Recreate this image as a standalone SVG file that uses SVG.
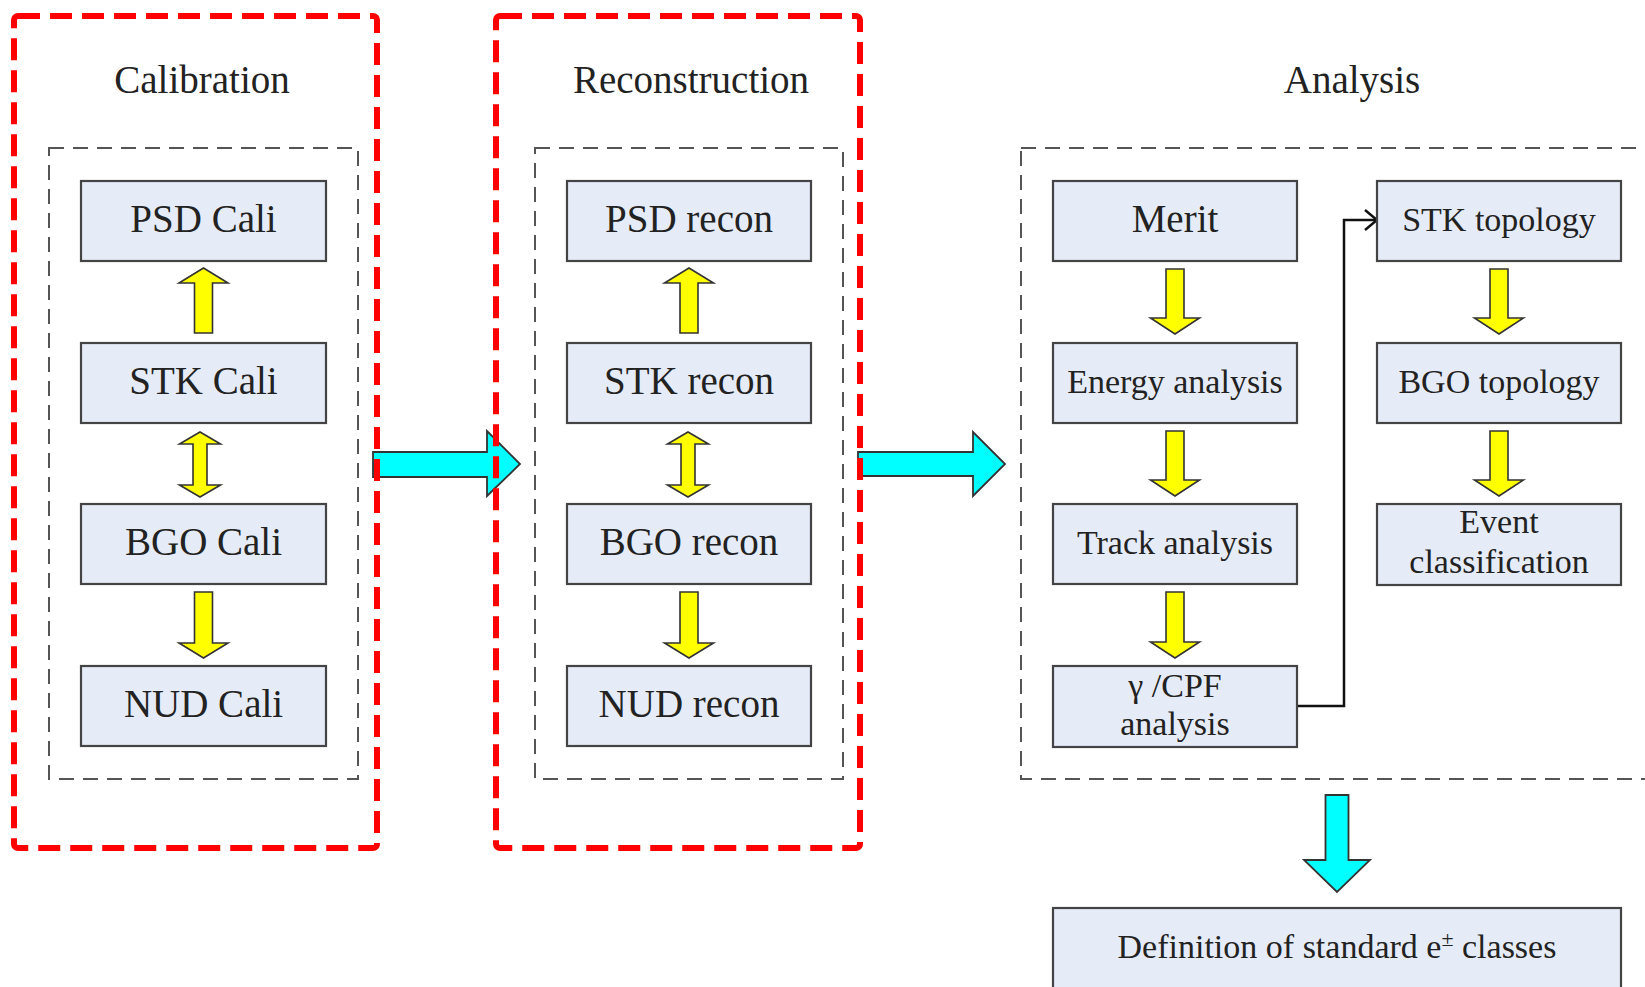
<svg xmlns="http://www.w3.org/2000/svg" width="1645" height="987" viewBox="0 0 1645 987">
<defs>
<style>
text{font-family:"Liberation Serif","Times New Roman",serif;fill:#222;text-anchor:middle}
.big{font-size:39px}
.sm{font-size:34px}
.box{fill:#E6ECF7;stroke:#444;stroke-width:2.2}
.gray{fill:none;stroke:#555;stroke-width:2;stroke-dasharray:15 9}
.red{fill:none;stroke:#FF0000;stroke-width:6;stroke-dasharray:22 10}
.yel{fill:#FFFF00;stroke:#333;stroke-width:1.6;stroke-linejoin:miter}
.cyan{fill:#00FFFF;stroke:#333;stroke-width:1.8}
.line{fill:none;stroke:#111;stroke-width:2.5}
</style>
<marker id="chev" viewBox="0 0 14 22" refX="13" refY="11" markerWidth="14" markerHeight="22" markerUnits="userSpaceOnUse" orient="auto">
<path d="M1,1 L13,11 L1,21" fill="none" stroke="#111" stroke-width="2.5"/>
</marker>
</defs>
<rect width="1645" height="987" fill="#fff"/>

<g id="containers">
<rect class="gray" x="49" y="148" width="309" height="631"/>
<rect class="gray" x="535" y="148" width="308" height="631"/>
<rect class="gray" x="1021" y="148" width="650" height="631"/>
<text class="big" x="202" y="93">Calibration</text>
<text class="big" x="691" y="93">Reconstruction</text>
<text class="big" x="1352" y="93">Analysis</text>
</g>

<g id="connectors">
<!-- calibration column -->
<path class="yel" d="M194.5,333 L194.5,283 L179,283 L203.5,268 L228,283 L212.5,283 L212.5,333 Z"/>
<path class="yel" d="M193,444 L179.5,444 L200,432 L220.5,444 L207,444 L207,485 L220.5,485 L200,497 L179.5,485 L193,485 Z"/>
<path class="yel" d="M194.5,592 L212.5,592 L212.5,643 L228,643 L203.5,658 L179,643 L194.5,643 Z"/>
<!-- reconstruction column -->
<path class="yel" d="M680,333 L680,283 L664.5,283 L689,268 L713.5,283 L698,283 L698,333 Z"/>
<path class="yel" d="M681,444 L667.5,444 L688,432 L708.5,444 L695,444 L695,485 L708.5,485 L688,497 L667.5,485 L681,485 Z"/>
<path class="yel" d="M680,592 L698,592 L698,643 L713.5,643 L689,658 L664.5,643 L680,643 Z"/>
<!-- analysis left column -->
<path class="yel" d="M1166,269 L1184,269 L1184,318 L1199.5,318 L1175,334 L1150.5,318 L1166,318 Z"/>
<path class="yel" d="M1166,431 L1184,431 L1184,480 L1199.5,480 L1175,496 L1150.5,480 L1166,480 Z"/>
<path class="yel" d="M1166,592 L1184,592 L1184,642 L1199.5,642 L1175,658 L1150.5,642 L1166,642 Z"/>
<!-- analysis right column -->
<path class="yel" d="M1490,269 L1508,269 L1508,318 L1523.5,318 L1499,334 L1474.5,318 L1490,318 Z"/>
<path class="yel" d="M1490,431 L1508,431 L1508,480 L1523.5,480 L1499,496 L1474.5,480 L1490,480 Z"/>
<!-- cyan flow arrows -->
<path class="cyan" d="M373,452 L487,452 L487,431 L520,464 L487,496 L487,477 L373,477 Z"/>
<path class="cyan" d="M858,452 L973,452 L973,432 L1005,464 L973,496 L973,476 L858,476 Z"/>
<path class="cyan" d="M1325.5,795 L1348.5,795 L1348.5,860 L1370,860 L1337,892 L1304,860 L1325.5,860 Z"/>
<!-- elbow connector -->
<path class="line" d="M1297,706 L1344,706 L1344,220 L1377,220" marker-end="url(#chev)"/>
</g>

<g id="frames">
<rect class="red" x="14" y="16" width="363" height="832" rx="4"/>
<rect class="red" x="496" y="16" width="364" height="832" rx="4"/>
</g>

<g id="psd-cali"><rect class="box" x="81" y="181" width="245" height="80"/><text class="big" x="203.5" y="232">PSD Cali</text></g>
<g id="stk-cali"><rect class="box" x="81" y="343" width="245" height="80"/><text class="big" x="203.5" y="394">STK Cali</text></g>
<g id="bgo-cali"><rect class="box" x="81" y="504" width="245" height="80"/><text class="big" x="203.5" y="555">BGO Cali</text></g>
<g id="nud-cali"><rect class="box" x="81" y="666" width="245" height="80"/><text class="big" x="203.5" y="717">NUD Cali</text></g>

<g id="psd-recon"><rect class="box" x="567" y="181" width="244" height="80"/><text class="big" x="689" y="232">PSD recon</text></g>
<g id="stk-recon"><rect class="box" x="567" y="343" width="244" height="80"/><text class="big" x="689" y="394">STK recon</text></g>
<g id="bgo-recon"><rect class="box" x="567" y="504" width="244" height="80"/><text class="big" x="689" y="555">BGO recon</text></g>
<g id="nud-recon"><rect class="box" x="567" y="666" width="244" height="80"/><text class="big" x="689" y="717">NUD recon</text></g>

<g id="merit"><rect class="box" x="1053" y="181" width="244" height="80"/><text class="big" x="1175" y="232">Merit</text></g>
<g id="energy"><rect class="box" x="1053" y="343" width="244" height="80"/><text class="sm" x="1175" y="393">Energy analysis</text></g>
<g id="track"><rect class="box" x="1053" y="504" width="244" height="80"/><text class="sm" x="1175" y="554">Track analysis</text></g>
<g id="gamma-cpf"><rect class="box" x="1053" y="666" width="244" height="81"/><text class="sm" x="1175" y="697">γ /CPF</text><text class="sm" x="1175" y="735">analysis</text></g>

<g id="stk-topo"><rect class="box" x="1377" y="181" width="244" height="80"/><text class="sm" x="1499" y="231">STK topology</text></g>
<g id="bgo-topo"><rect class="box" x="1377" y="343" width="244" height="80"/><text class="sm" x="1499" y="393">BGO topology</text></g>
<g id="event"><rect class="box" x="1377" y="504" width="244" height="81"/><text class="sm" x="1499" y="533">Event</text><text class="sm" x="1499" y="573">classification</text></g>

<g id="definition"><rect class="box" x="1053" y="908" width="568" height="100"/><text class="sm" x="1337" y="958">Definition of standard e<tspan font-size="22" dy="-12">±</tspan><tspan dy="12"> classes</tspan></text></g>
</svg>
